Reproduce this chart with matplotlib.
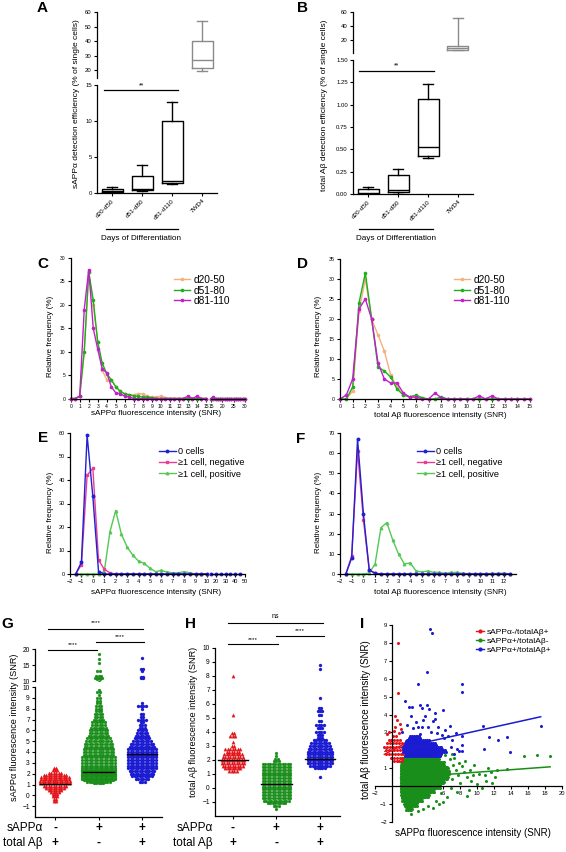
import numpy as np
import matplotlib
matplotlib.use('Agg')
import matplotlib.pyplot as plt
from matplotlib.lines import Line2D
from matplotlib.transforms import blended_transform_factory

plt.rcParams['font.family'] = ['Liberation Sans', 'DejaVu Sans']

# ---------------- data ----------------
box_cats = ['d20-d50', 'd51-d80', 'd81-d110', '7WD4']
A_lo = [0.05, 0.3, 1.3, 19.0]
A_q1 = [0.1, 0.45, 1.4, 21.5]
A_med = [0.3, 0.6, 1.7, 27.0]
A_q3 = [0.55, 2.4, 10.0, 40.0]
A_hi = [0.8, 3.9, 12.6, 54.0]
B_lo = [0.0, 0.0, 0.40, 6.4]
B_q1 = [0.0, 0.02, 0.43, 6.4]
B_med = [0.01, 0.05, 0.53, 9.2]
B_q3 = [0.06, 0.21, 1.06, 12.4]
B_hi = [0.08, 0.28, 1.23, 52.0]

C_x = [0, 0.5, 1, 1.5, 2, 2.5, 3, 3.5, 4, 4.5, 5, 5.5, 6, 6.5, 7, 7.5, 8, 8.5, 9, 9.5,
       10, 10.5, 11, 11.5, 12, 12.5, 13, 13.5, 14, 14.5, 15,
       16, 17, 18, 19, 20, 21, 22, 23, 24, 25, 26, 27, 28, 29, 30]
C_d20 = [0, 0, 0.5, 10, 27, 20, 12, 6, 4, 4, 2.5, 1.5, 1, 0.8, 0.8, 1, 1, 0.5, 0.3, 0.3,
         0.5, 0.2, 0, 0, 0, 0, 0, 0, 0, 0, 0,
         0, 0, 0, 0, 0, 0, 0, 0, 0, 0, 0, 0, 0, 0, 0]
C_d51 = [0, 0, 0.5, 10, 27, 21, 12, 7.5, 5.3, 4, 2.5, 1.5, 1, 0.8, 0.5, 0.5, 0.3, 0.3, 0.2, 0,
         0, 0, 0, 0, 0, 0, 0, 0, 0, 0, 0,
         0, 0, 0, 0, 0, 0, 0, 0, 0, 0, 0, 0, 0, 0, 0]
C_d81 = [0, 0, 0.5, 19, 27.5, 15, 10.5, 6.3, 5.5, 2.5, 1.2, 1, 0.5, 0.3, 0, 0, 0, 0, 0, 0,
         0, 0, 0, 0, 0, 0, 0.5, 0, 0.5, 0, 0,
         0.4, 0, 0, 0, 0, 0, 0, 0, 0, 0, 0, 0, 0, 0, 0]

D_x = [0, 0.5, 1, 1.5, 2, 2.5, 3, 3.5, 4, 4.5, 5, 5.5, 6, 6.5, 7, 7.5, 8, 8.5, 9, 9.5,
       10, 10.5, 11, 11.5, 12, 12.5, 13, 13.5, 14, 14.5, 15]
D_d20 = [0, 0, 2, 22, 30, 20, 16, 12, 6, 3, 1, 0.5, 0.3, 0.3, 0, 0, 0.3, 0, 0, 0,
         0, 0, 0, 0, 0, 0, 0, 0, 0, 0, 0]
D_d51 = [0, 0, 3, 24, 31.5, 20, 8, 7, 5.5, 2.5, 1, 0.5, 1, 0.3, 0, 0, 0.5, 0, 0, 0,
         0, 0, 0, 0, 0, 0, 0, 0, 0, 0, 0]
D_d81 = [0, 1, 5, 22.5, 25, 20, 9, 5, 4, 4, 1.5, 0.5, 0.5, 0, 0, 1.5, 0.3, 0, 0, 0,
         0, 0, 0.8, 0, 0.8, 0, 0, 0, 0, 0, 0]

E_x = [-1.5, -1, -0.5, 0, 0.5, 1, 1.5, 2, 2.5, 3, 3.5, 4, 4.5, 5, 5.5, 6, 6.5, 7, 7.5, 8,
       8.5, 9, 9.5, 10]
E_zero = [0, 5, 59, 33, 1, 0, 0, 0, 0, 0, 0, 0, 0, 0, 0, 0, 0, 0, 0, 0, 0, 0, 0, 0]
E_neg = [0, 4, 42, 45, 6, 2, 0.5, 0, 0, 0, 0, 0, 0, 0, 0, 0, 0, 0, 0, 0, 0, 0, 0, 0]
E_pos = [0, 0, 0, 0, 0, 1, 18, 27, 17, 11.5, 8, 5.5, 4.5, 2.5, 1, 1.5, 0.8, 0.5, 0.5, 1,
         0.5, 0, 0, 0]
E_tail_x = [15, 20, 25, 30, 35, 40, 45]
E_tail_zero = [0, 0, 0, 0, 0, 0, 0]

F_x = [-1.5, -1, -0.5, 0, 0.5, 1, 1.5, 2, 2.5, 3, 3.5, 4, 4.5, 5, 5.5, 6, 6.5, 7, 7.5, 8,
       8.5, 9, 9.5, 10, 10.5, 11, 11.5, 12, 12.5]
F_zero = [0, 8, 67, 30, 2, 0.3, 0, 0, 0, 0, 0, 0, 0, 0, 0, 0, 0, 0, 0, 0, 0, 0, 0, 0, 0, 0, 0, 0, 0]
F_neg = [0, 9, 61, 27, 2, 0.5, 0, 0, 0, 0, 0, 0, 0, 0, 0, 0, 0, 0, 0, 0, 0, 0, 0, 0, 0, 0, 0, 0, 0]
F_pos = [0, 0, 0, 0, 0.5, 5, 23, 25.5, 17, 10, 5, 5.5, 1.5, 1, 1.5, 0.8, 0.8, 0.3, 0.8, 0.8,
         0.3, 0.2, 0.2, 0.2, 0.2, 0.3, 0.3, 0.5, 0]

grp_sapp = ['-', '+', '+']
grp_abeta = ['+', '-', '+']

G_red_vals = [-0.5, -0.3, -0.1, 0.1, 0.3, 0.5, 0.7, 0.9, 1.1, 1.3, 1.5, 1.7, 1.9, 2.1, 2.3, 2.5]
G_red_cnt = [2, 2, 3, 3, 4, 6, 8, 10, 13, 13, 12, 12, 10, 6, 3, 2]
G_grn_vals = [1.1, 1.25, 1.375, 1.5, 1.625, 1.75, 1.875, 2.0, 2.125, 2.25, 2.375, 2.5, 2.75,
              3.0, 3.25, 3.5, 3.75, 4.0, 4.25, 4.5, 4.75, 5.0, 5.25, 5.5, 5.75, 6.0, 6.25,
              6.5, 6.75, 7.0, 7.25, 7.5, 7.75, 8.0, 8.25, 8.5, 8.75, 9.0, 9.25, 9.5, 9.75,
              10.5, 11.0, 11.5, 13.0, 15.5, 17.0, 18.5]
G_grn_cnt = [5, 10, 13, 14, 14, 14, 14, 14, 14, 14, 14, 14, 14, 14, 14, 14, 13, 13, 13, 12,
             12, 11, 10, 9, 8, 8, 7, 6, 6, 5, 4, 4, 3, 3, 3, 2, 2, 2, 1, 2, 1, 2, 4, 3, 2,
             1, 1, 1]
G_blu_vals = [1.25, 1.5, 1.75, 2.0, 2.25, 2.5, 2.75, 3.0, 3.25, 3.5, 3.75, 4.0, 4.25, 4.5,
              4.75, 5.0, 5.25, 5.5, 5.75, 6.0, 6.25, 6.5, 6.75, 7.0, 7.25, 7.5, 8.0, 8.25,
              8.5, 11.0, 11.3, 13.2, 13.8, 17.3]
G_blu_cnt = [3, 6, 9, 10, 11, 12, 12, 12, 12, 12, 12, 12, 12, 11, 10, 8, 7, 6, 5, 4, 3, 3,
             2, 4, 2, 2, 1, 4, 1, 2, 2, 1, 2, 1]
G_med = [1.05, 2.2, 3.85]

H_red_vals = [1.2, 1.4, 1.6, 1.8, 2.0, 2.2, 2.4, 2.6, 2.8, 3.0, 3.3, 3.7, 3.9, 5.2, 8.0]
H_red_cnt = [4, 7, 9, 10, 10, 9, 8, 6, 7, 2, 1, 3, 2, 1, 1]
H_grn_vals = [-1.5, -1.3, -1.1, -0.9, -0.7, -0.5, -0.3, -0.1, 0.1, 0.3, 0.5, 0.7, 0.9, 1.1,
              1.3, 1.5, 1.7, 1.9, 2.1, 2.3, 2.5]
H_grn_cnt = [1, 3, 8, 11, 12, 12, 12, 12, 12, 12, 12, 12, 12, 12, 12, 12, 12, 3, 2, 1, 1]
H_blu_vals = [0.8, 1.4, 1.6, 1.8, 2.0, 2.2, 2.4, 2.6, 2.8, 3.0, 3.2, 3.4, 3.6, 3.8, 4.0, 4.3,
              4.5, 4.8, 5.2, 5.5, 5.7, 6.4, 8.5, 8.8]
H_blu_cnt = [1, 5, 9, 11, 11, 11, 11, 11, 10, 9, 8, 6, 3, 3, 4, 3, 4, 2, 2, 3, 2, 1, 1, 1]
H_med = [2.0, 0.3, 2.1]

# panel I: dense regions (row y, x from, x to) + individual sparse points
I_grn_y = [-1.25, -1.0, -0.75, -0.5, -0.25, 0.0, 0.25, 0.5, 0.75, 1.0, 1.25, 1.5, 1.7]
I_grn_x0 = [1.7, 1.4, 1.2, 1.1, 1.0, 1.0, 1.0, 1.0, 1.0, 1.0, 1.1, 1.2, 1.5]
I_grn_x1 = [2.4, 3.0, 3.6, 4.4, 5.0, 5.6, 6.2, 6.6, 6.8, 6.6, 6.2, 5.6, 4.6]
I_blu_y = [1.75, 1.95, 2.15, 2.35, 2.55, 2.75]
I_blu_x0 = [1.5, 1.3, 1.3, 1.4, 1.6, 2.0]
I_blu_x1 = [5.8, 6.4, 6.0, 5.2, 4.4, 3.4]
I_red_y = [1.4, 1.6, 1.8, 2.0, 2.2, 2.4, 2.6, 2.8]
I_red_x0 = [0.2, -0.3, -0.7, -0.9, -0.9, -0.7, -0.4, 0.0]
I_red_x1 = [1.3, 1.4, 1.4, 1.4, 1.3, 1.2, 1.0, 0.8]
I_grn_sx = [6.8, 7.2, 7.5, 7.0, 7.8, 8.2, 8.5, 8.0, 8.8, 9.2, 9.5, 10.0, 10.2, 10.9, 11.1,
            11.8, 11.3, 13.5, 15.5, 17.1, 18.6, 9.0, 8.8, 7.6, 6.5, 6.0, 5.5, 4.8, 4.2, 3.6,
            3.0, 2.2, 6.9, 7.3, 8.6, 9.6, 11.6, 12.1, 6.2, 5.8, 7.9, 9.3, 10.6, 12.3, 7.1, 5.2]
I_grn_sy = [1.5, 1.2, 0.9, 0.4, 0.6, 1.1, 0.8, 0.2, 0.5, 0.9, 0.6, 0.12, 0.7, 0.63, 0.27,
            0.2, 1.0, 0.98, 1.67, 1.72, 1.67, -0.2, -0.57, -0.3, -0.6, -0.9, -1.0, -1.2, -1.1,
            -1.3, -1.4, -1.55, -0.1, 1.6, 1.4, 1.2, 0.8, 0.5, 1.75, -0.4, 1.3, 0.3, -0.1, 0.9,
            1.8, -0.8]
I_blu_sx = [4.47, 4.67, 4.16, 3.02, 8.27, 8.27, 1.53, 2.04, 2.39, 3.29, 3.5, 4.16, 4.39, 5.06,
            5.96, 5.06, 3.69, 2.51, 3.1, 3.49, 4.27, 4.86, 6.82, 7.53, 6.24, 5.45, 10.67,
            17.49, 11.45, 12.43, 13.57, 10.82, 13.88, 8.27, 8.27, 8.27, 7.69, 7.92, 7.02,
            6.55, 5.84, 1.2, 2.8, 3.9, 4.6, 5.3, 6.1, 6.9, 7.3, 2.2, 1.8, 3.3]
I_blu_sy = [8.8, 8.56, 6.38, 5.71, 5.71, 5.24, 4.74, 4.42, 4.42, 4.53, 4.37, 4.53, 4.31, 4.09,
            4.23, 3.75, 3.71, 3.25, 3.29, 3.3, 3.29, 3.62, 3.34, 2.97, 3.12, 3.29, 3.34, 3.38,
            2.73, 2.6, 2.75, 2.08, 1.91, 2.78, 2.28, 1.94, 2.08, 1.94, 2.6, 2.78, 2.88, 3.0,
            3.6, 3.9, 3.0, 2.95, 2.7, 2.2, 1.8, 3.9, 3.4, 2.9]
I_red_sx = [0.75, 0.67, 0.3, 0.6, 0.9, 0.4, 1.1, -0.3, 0.2, -0.6, 0.8]
I_red_sy = [8.0, 5.2, 3.9, 3.7, 3.5, 3.3, 3.2, 3.0, 3.1, 2.9, 2.95]
I_fit_slope = [0.25, 0.035, 0.105]
I_fit_icpt = [2.0, 0.43, 2.04]
I_labels = ['sAPPα-/totalAβ+', 'sAPPα+/totalAβ-', 'sAPPα+/totalAβ+']

# ---------------- styling ----------------
ORANGE, GREEN_C, MAGENTA = '#F5B07C', '#1DAF1D', '#C020C8'
BLUE_E, PINK_E, GREEN_E = '#2020D0', '#EA3C96', '#55C855'
RED, GREEN, BLUE = '#E4161B', '#1A8E1A', '#1B1BD1'

W, H = 566, 852
fig = plt.figure(figsize=(W / 100, H / 100), dpi=100)


def add_ax(l, t, r, b):
    return fig.add_axes([l / W, 1 - b / H, (r - l) / W, (b - t) / H])


def clean(ax, left=True, bottom=True, fs=4.3):
    ax.spines['top'].set_visible(False)
    ax.spines['right'].set_visible(False)
    ax.spines['left'].set_visible(left)
    ax.spines['bottom'].set_visible(bottom)
    for s in ax.spines.values():
        s.set_linewidth(0.9)
    ax.tick_params(labelsize=fs, length=2.5, width=0.8, pad=1.2)
    if not left:
        ax.tick_params(axis='y', left=False, labelleft=False)
    if not bottom:
        ax.tick_params(axis='x', bottom=False, labelbottom=False)
    ax.patch.set_alpha(0)


def ftext(x, y, s, **kw):
    fig.text(x / W, 1 - y / H, s, **kw)


def fline(x0, x1, y0, y1, **kw):
    fig.add_artist(Line2D([x0 / W, x1 / W], [1 - y0 / H, 1 - y1 / H],
                          transform=fig.transFigure, **kw))


def letter(x, y, s):
    ftext(x, y, s, ha='center', va='center', fontsize=11, fontweight='bold')


# ---------------- A & B: box plots ----------------
def boxes(axes, lo, q1, med, q3, hi):
    cols = ['black', 'black', 'black', '#8a8a8a']
    for ax in axes:
        for i in range(4):
            st = dict(whislo=lo[i], q1=q1[i], med=med[i], q3=q3[i], whishi=hi[i])
            c = cols[i]
            ax.bxp([st], positions=[i], widths=0.7, capwidths=0.34, showfliers=False,
                   manage_ticks=False,
                   boxprops=dict(color=c, lw=1.0), whiskerprops=dict(color=c, lw=1.0),
                   capprops=dict(color=c, lw=1.0), medianprops=dict(color=c, lw=1.0))
        ax.set_xlim(-0.5, 3.5)


axA_t = add_ax(97, 12, 217, 78)
axA_b = add_ax(97, 85, 217, 193)
boxes([axA_t, axA_b], A_lo, A_q1, A_med, A_q3, A_hi)
axA_t.set_ylim(14.5, 60)
axA_t.set_yticks([20, 30, 40, 50, 60])
clean(axA_t, bottom=False)
axA_b.set_ylim(0, 15)
axA_b.set_yticks([0, 5, 10, 15])
clean(axA_b)
axB_t = add_ax(353, 12, 473, 53.3)
axB_b = add_ax(353, 60, 473, 194)
boxes([axB_t, axB_b], B_lo, B_q1, B_med, B_q3, B_hi)
axB_t.set_ylim(2.0, 60)
axB_t.set_yticks([20, 40, 60])
clean(axB_t, bottom=False)
axB_b.set_ylim(0, 1.5)
axB_b.set_yticks([0, 0.25, 0.5, 0.75, 1.0, 1.25, 1.5])
axB_b.set_yticklabels(['0.00', '0.25', '0.50', '0.75', '1.00', '1.25', '1.50'])
clean(axB_b)
for ax in (axA_b, axB_b):
    ax.set_xticks(range(4))
    ax.set_xticklabels(box_cats, rotation=45, ha='right', rotation_mode='anchor', fontsize=4.6)

axA_b.plot([-0.27, 2.2], [14.3, 14.3], color='black', lw=0.9, clip_on=False)
axA_b.text(0.97, 14.45, '**', ha='center', va='bottom', fontsize=5)
axB_b.plot([-0.3, 2.2], [1.377, 1.377], color='black', lw=0.9, clip_on=False)
axB_b.text(0.95, 1.39, '**', ha='center', va='bottom', fontsize=5)

for x0, x1, xc in ((106, 178, 141), (359, 433, 396)):
    fline(x0, x1, 229, 229, color='black', lw=0.9)
    ftext(xc, 239, 'Days of Differentiation', ha='center', va='center', fontsize=5.9)
ftext(77, 104, 'sAPPα detection efficiency (% of single cells)', rotation=90,
      ha='center', va='center', fontsize=6)
ftext(325, 105, 'total Aβ detection efficiency (% of single cells)', rotation=90,
      ha='center', va='center', fontsize=6)
letter(42, 8, 'A')
letter(302, 8, 'B')


# ---------------- C-F: frequency distributions ----------------
def seg_plot(ax, xs, ys, lo, hi, **kw):
    xs = np.asarray(xs, float)
    ys = np.asarray(ys, float)
    m = (xs >= lo) & (xs <= hi)
    return ax.plot(xs[m], ys[m], clip_on=False, **kw)[0]


C_series = [(C_d20, ORANGE, 'd20-50'), (C_d51, GREEN_C, 'd51-80'), (C_d81, MAGENTA, 'd81-110')]
axC1 = add_ax(70.7, 258, 206, 398.5)
axC2 = add_ax(211, 258, 245, 398.5)
handles = []
for ys, c, lab in C_series:
    h = seg_plot(axC1, C_x, ys, 0, 15, color=c, lw=1.0, marker='o', ms=1.6)
    seg_plot(axC2, C_x, ys, 15, 30, color=c, lw=1.0, marker='o', ms=1.6)
    handles.append(h)
axC1.set_xlim(0, 15)
axC1.set_ylim(0, 30)
axC1.set_xticks(range(16))
axC1.set_yticks(range(0, 31, 5))
clean(axC1, fs=3.6)
axC2.set_xlim(15, 30)
axC2.set_ylim(0, 30)
axC2.set_xticks([15, 20, 25, 30])
clean(axC2, left=False, fs=3.6)
fig.legend(handles, [s[2] for s in C_series], loc='upper left',
           bbox_to_anchor=(174 / W, 1 - 275 / H), frameon=False, fontsize=7.3,
           handlelength=1.6, handletextpad=0.3, labelspacing=0.05, borderpad=0,
           borderaxespad=0)

D_series = [(D_d20, ORANGE, 'd20-50'), (D_d51, GREEN_C, 'd51-80'), (D_d81, MAGENTA, 'd81-110')]
axD = add_ax(340, 259, 530, 399)
handles = []
for ys, c, lab in D_series:
    handles.append(seg_plot(axD, D_x, ys, 0, 15, color=c, lw=1.0, marker='o', ms=1.6))
axD.set_xlim(0, 15)
axD.set_ylim(0, 35)
axD.set_xticks(range(16))
axD.set_yticks(range(0, 36, 5))
clean(axD, fs=3.8)
fig.legend(handles, [s[2] for s in D_series], loc='upper left',
           bbox_to_anchor=(454 / W, 1 - 275 / H), frameon=False, fontsize=7.3,
           handlelength=1.6, handletextpad=0.3, labelspacing=0.05, borderpad=0,
           borderaxespad=0)

for xc in (50, 318):
    ftext(xc, 336, 'Relative frequency (%)', rotation=90, ha='center', va='center', fontsize=5.8)
    ftext(xc, 512, 'Relative frequency (%)', rotation=90, ha='center', va='center', fontsize=5.8)
ftext(156, 413, 'sAPPα fluorescence intensity (SNR)', ha='center', va='center', fontsize=5.9)
ftext(440, 416, 'total Aβ fluorescence intensity (SNR)', ha='center', va='center', fontsize=5.9)
ftext(156, 593, 'sAPPα fluorescence intensity (SNR)', ha='center', va='center', fontsize=5.9)
ftext(440, 593, 'total Aβ fluorescence intensity (SNR)', ha='center', va='center', fontsize=5.9)
letter(43, 264, 'C')
letter(302, 264, 'D')

EF_labels = ['0 cells', '≥1 cell, negative', '≥1 cell, positive']
axE1 = add_ax(70, 433, 207, 574)
axE2 = add_ax(211, 433, 245, 574)
handles = []
for ys, c, mk in ((E_pos, GREEN_E, '^'), (E_neg, PINK_E, 's'), (E_zero, BLUE_E, 'o')):
    handles.append(seg_plot(axE1, E_x, ys, -2, 10, color=c, lw=1.0, marker=mk, ms=1.8))
seg_plot(axE2, E_tail_x, E_tail_zero, 15, 50, color=BLUE_E, lw=1.0, marker='o', ms=1.8)
handles = handles[::-1]
axE1.set_xlim(-2, 10)
axE1.set_ylim(0, 60)
axE1.set_xticks(range(-2, 11))
axE1.set_yticks(range(0, 61, 10))
clean(axE1, fs=4)
axE2.set_xlim(15, 50)
axE2.set_ylim(0, 60)
axE2.set_xticks([20, 30, 40, 50])
clean(axE2, left=False, fs=4)
fig.legend(handles, EF_labels, loc='upper left', bbox_to_anchor=(159 / W, 1 - 447 / H),
           frameon=False, fontsize=6.6, handlelength=1.8, handletextpad=0.3,
           labelspacing=0.25, borderpad=0, borderaxespad=0)

axF = add_ax(340, 433, 515.5, 574)
handles = []
for ys, c, mk in ((F_pos, GREEN_E, '^'), (F_neg, PINK_E, 's'), (F_zero, BLUE_E, 'o')):
    handles.append(seg_plot(axF, F_x, ys, -2, 13, color=c, lw=1.0, marker=mk, ms=1.8))
handles = handles[::-1]
axF.set_xlim(-2, 13)
axF.set_ylim(0, 70)
axF.set_xticks(range(-2, 13))
axF.set_yticks(range(0, 71, 10))
clean(axF, fs=4)
fig.legend(handles, EF_labels, loc='upper left', bbox_to_anchor=(417 / W, 1 - 447 / H),
           frameon=False, fontsize=6.6, handlelength=1.8, handletextpad=0.3,
           labelspacing=0.25, borderpad=0, borderaxespad=0)
letter(43, 438, 'E')
letter(301, 439, 'F')


# ---------------- G & H: column scatter ----------------
def swarm(ax, pos, vals, cnts, dx, **kw):
    xs, ys = [], []
    for v, n in zip(vals, cnts):
        off = (np.arange(n) - (n - 1) / 2.0) * dx
        xs.extend(pos + off)
        ys.extend([v] * n)
    ax.plot(xs, ys, ls='none', **kw)


def column_panel(axes, data, meds):
    for ax in axes:
        for pos, (vals, cnts, c, mk, ms) in enumerate(data):
            swarm(ax, pos, vals, cnts, 0.057, marker=mk, ms=ms, color=c, mec=c, mew=0.2)
            ax.plot([pos - 0.35, pos + 0.35], [meds[pos]] * 2, color='black', lw=1.0, zorder=5)


def sig(ax, x0, x1, ypx, ytxt, label, fs=4.6):
    tr = blended_transform_factory(ax.transData, fig.transFigure)
    ax.plot([x0, x1], [1 - ypx / H] * 2, transform=tr, color='black', lw=0.8, clip_on=False)
    ax.text((x0 + x1) / 2, 1 - ytxt / H, label, transform=tr, ha='center', va='center',
            fontsize=fs, clip_on=False)


G_data = [(G_red_vals, G_red_cnt, RED, '^', 2.4), (G_grn_vals, G_grn_cnt, GREEN, 'o', 2.1),
          (G_blu_vals, G_blu_cnt, BLUE, 'o', 2.2)]
axG_t = add_ax(35, 649, 161.6, 681)
axG_b = add_ax(35, 687, 161.6, 817)
column_panel([axG_t, axG_b], G_data, G_med)
for ax in (axG_t, axG_b):
    ax.set_xlim(-0.46, 2.45)
axG_t.set_ylim(10, 20)
axG_t.set_yticks([10, 15, 20])
clean(axG_t, bottom=False, fs=4.8)
axG_b.set_ylim(-2, 10)
axG_b.set_yticks(range(-1, 11))
axG_b.set_xticks([0, 1, 2])
axG_b.set_xticklabels([])
clean(axG_b, fs=4.8)
sig(axG_t, -0.16, 2.02, 629, 623, '****')
sig(axG_t, -0.16, 0.97, 650, 645, '****')
sig(axG_t, 0.94, 2.05, 642, 637, '****')

H_data = [(H_red_vals, H_red_cnt, RED, '^', 2.4), (H_grn_vals, H_grn_cnt, GREEN, 'o', 2.1),
          (H_blu_vals, H_blu_cnt, BLUE, 'o', 2.2)]
axH = add_ax(215, 648, 339.6, 816)
column_panel([axH], H_data, H_med)
axH.set_xlim(-0.41, 2.45)
axH.set_ylim(-2, 10)
axH.set_yticks(range(-1, 11))
axH.set_xticks([0, 1, 2])
axH.set_xticklabels([])
clean(axH, fs=4.8)
sig(axH, -0.11, 2.07, 623, 617, 'ns', fs=5)
sig(axH, -0.11, 1.03, 644, 640, '****')
sig(axH, 0.99, 2.1, 636, 631, '****')

for ax, xr in ((axG_b, 43), (axH, 213)):
    ftext(xr, 828, 'sAPPα', ha='right', va='center', fontsize=8.5)
    ftext(xr, 843, 'total Aβ', ha='right', va='center', fontsize=8.5)
    tr = blended_transform_factory(ax.transData, fig.transFigure)
    for i in range(3):
        ax.text(i, 1 - 828 / H, grp_sapp[i], transform=tr, ha='center', va='center',
                fontsize=8.5, fontweight='bold')
        ax.text(i, 1 - 843 / H, grp_abeta[i], transform=tr, ha='center', va='center',
                fontsize=8.5, fontweight='bold')
ftext(15, 727, 'sAPPα fluorescence intensity (SNR)', rotation=90, ha='center',
      va='center', fontsize=6.6)
ftext(193, 722, 'total Aβ fluorescence intensity (SNR)', rotation=90, ha='center',
      va='center', fontsize=6.6)
letter(7, 624, 'G')
letter(190, 624, 'H')


# ---------------- I: scatter ----------------
def fill_rows(ys, x0s, x1s, dx, subs):
    px, py = [], []
    k = 0
    for y, a, b in zip(ys, x0s, x1s):
        for s in subs:
            shift = (dx / 2.0) * (k % 2)
            xx = np.arange(a + shift, b + 1e-9, dx)
            px.extend(xx)
            py.extend([y + s] * len(xx))
            k += 1
    return px, py


axI = add_ax(375, 625, 562, 822)
gx, gy = fill_rows(I_grn_y, I_grn_x0, I_grn_x1, 0.18, (-0.083, 0.0, 0.083))
gx += I_grn_sx
gy += I_grn_sy
rx, ry = fill_rows(I_red_y, I_red_x0, I_red_x1, 0.34, (0.0,))
rx += I_red_sx
ry += I_red_sy
bx, by = fill_rows(I_blu_y, I_blu_x0, I_blu_x1, 0.22, (-0.05, 0.05))
bx += I_blu_sx
by += I_blu_sy
for px, py, c in ((gx, gy, GREEN), (rx, ry, RED), (bx, by, BLUE)):
    axI.plot(px, py, ls='none', marker='o', ms=2.2, color=c, mew=0, zorder=2)
for (px, c), m, b in zip(((rx, RED), (gx, GREEN), (bx, BLUE)), I_fit_slope, I_fit_icpt):
    xl = np.array([min(px), max(px)])
    axI.plot(xl, m * xl + b, color=c, lw=1.1, zorder=3)
axI.set_xlim(-2, 20)
axI.set_ylim(-2, 9)
axI.spines['left'].set_position(('data', 0))
axI.spines['bottom'].set_position(('data', 0))
axI.set_xticks([-2, 2, 4, 6, 8, 10, 12, 14, 16, 18, 20])
axI.set_yticks([-2, -1, 1, 2, 3, 4, 5, 6, 7, 8, 9])
clean(axI, fs=4.2)
axI.set_axisbelow(True)
ih = [Line2D([0], [0], color=c, lw=1.0, marker='o', ms=2.0) for c in (RED, GREEN, BLUE)]
fig.legend(ih, I_labels, loc='upper left', bbox_to_anchor=(476 / W, 1 - 628 / H),
           frameon=False, fontsize=6, handlelength=0.9, handletextpad=0.4,
           labelspacing=0.15, borderpad=0, borderaxespad=0)
ftext(473, 833, 'sAPPα fluorescence intensity (SNR)', ha='center', va='center', fontsize=7)
ftext(366, 720, 'total Aβ fluorescence intensity (SNR)', rotation=90, ha='center',
      va='center', fontsize=7)
letter(362, 624, 'I')

fig.savefig('out.png', dpi=100)
